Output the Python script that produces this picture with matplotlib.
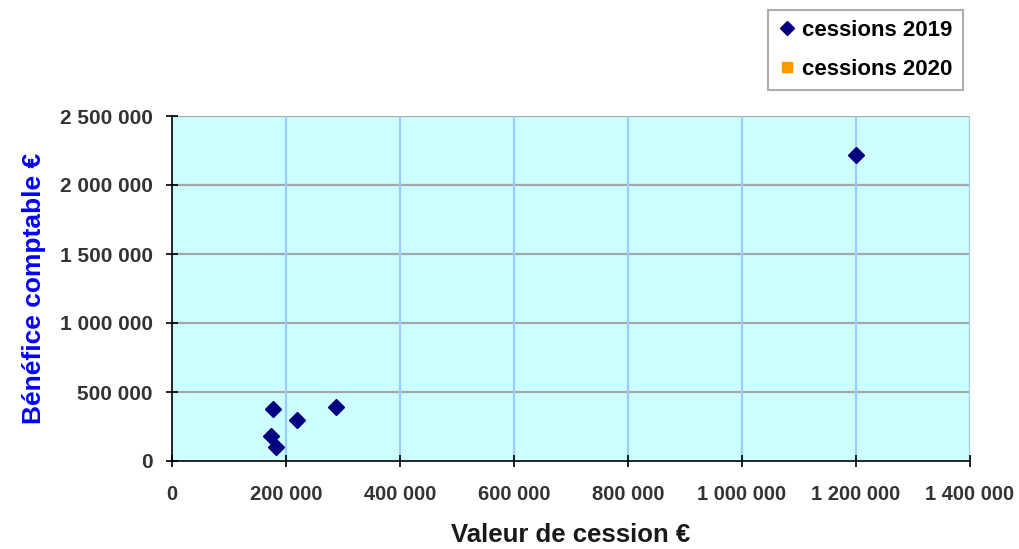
import matplotlib
matplotlib.use("Agg")
import matplotlib.pyplot as plt
from matplotlib.ticker import FuncFormatter

# cessions data
valeur_2019 = [178000, 220000, 288000, 174000, 182000, 1200000]
benefice_2019 = [375000, 298000, 389000, 181000, 104000, 2217000]
valeur_2020 = []
benefice_2020 = []

x_ticks = [0, 200000, 400000, 600000, 800000, 1000000, 1200000, 1400000]
y_ticks = [0, 500000, 1000000, 1500000, 2000000, 2500000]

plt.rcParams['font.family'] = ['Liberation Sans', 'DejaVu Sans']

fig = plt.figure(figsize=(10.2, 5.49), dpi=100)
ax = fig.add_axes([172 / 1020, 1 - 461 / 549, (970 - 172) / 1020, (461 - 116) / 549])
ax.set_facecolor("#CCFFFF")

ax.plot(valeur_2019, benefice_2019, linestyle="none", marker="D", markersize=8,
        color="#000080", label="cessions 2019", zorder=3, clip_on=False)
ax.plot(valeur_2020, benefice_2020, linestyle="none", marker="s", markersize=8,
        color="#FF9900", label="cessions 2020", zorder=3)

ax.set_xlim(0, 1400000)
ax.set_ylim(0, 2500000)
ax.set_xticks(x_ticks)
ax.set_yticks(y_ticks)

fmt = FuncFormatter(lambda v, p: "{:,.0f}".format(v).replace(",", " "))
ax.xaxis.set_major_formatter(fmt)
ax.yaxis.set_major_formatter(fmt)

# grid
for yv in y_ticks[1:]:
    ax.axhline(yv, color="#A6A6A6", linewidth=1.6, zorder=1)
for xv in x_ticks[1:]:
    ax.axvline(xv, color="#99CCFF", linewidth=1.6, zorder=1)

for s in ["top", "right"]:
    ax.spines[s].set_visible(False)
for s in ["left", "bottom"]:
    ax.spines[s].set_color("black")
    ax.spines[s].set_linewidth(1.2)

ax.tick_params(direction="inout", length=8, width=1.2, colors="black")
ax.tick_params(axis="x", pad=13, labelsize=14.5, labelcolor="#333333")
ax.tick_params(axis="y", pad=10, labelsize=15, labelcolor="#333333")
for lbl in ax.get_xticklabels() + ax.get_yticklabels():
    lbl.set_fontweight("bold")

ax.set_xlabel("Valeur de cession €", fontsize=18.5, fontweight="bold", color="#1a1a1a", labelpad=14)
ax.set_ylabel("Bénéfice comptable €", fontsize=19, fontweight="bold", color="#0000FF", labelpad=10)

leg = fig.legend(loc="upper left", bbox_to_anchor=(768 / 1020, 1 - 10 / 549),
                 prop={"weight": "bold", "size": 16}, frameon=True, fancybox=False,
                 handletextpad=0.3, handlelength=0.8, borderpad=0.45, labelspacing=0.8,
                 borderaxespad=0, markerscale=0.85)
leg.get_frame().set_edgecolor("#999999")
leg.get_frame().set_linewidth(1.5)

fig.savefig("out.png", dpi=100)
